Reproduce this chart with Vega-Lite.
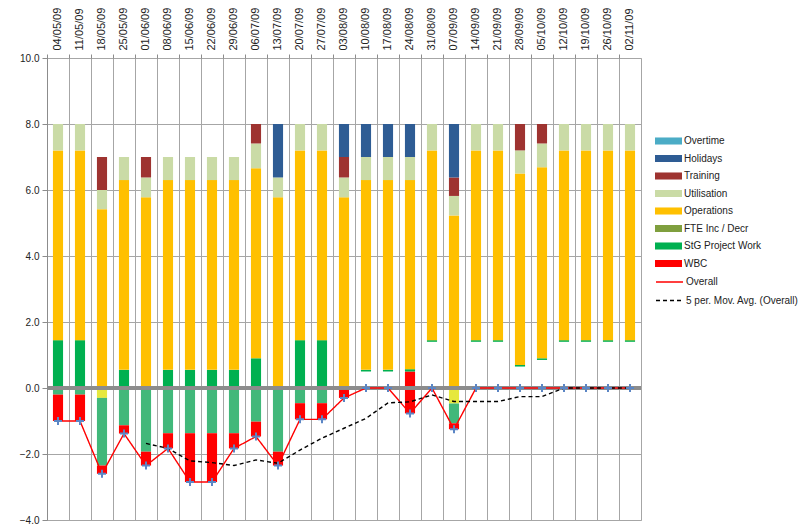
{
  "$schema": "https://vega.github.io/schema/vega-lite/v6.json",
  "width": 594,
  "height": 462,
  "autosize": {"type": "none"},
  "padding": {"left": 47, "top": 58, "right": 170, "bottom": 8},
  "background": "white",
  "config": {
    "font": "Liberation Sans",
    "view": {"stroke": "#a6a6a6", "strokeWidth": 1},
    "axis": {"labelFontSize": 10, "labelColor": "#222222", "gridColor": "#a6a6a6", "gridWidth": 1, "domainColor": "#8c8c8c", "tickColor": "#8c8c8c"},
    "legend": {"labelFontSize": 10, "labelColor": "#222222", "labelFont": "Liberation Sans"}
  },
  "datasets": {
    "bars": [
      {"date": "04/05/09", "series": "StG Project Work", "value": 1.45},
      {"date": "04/05/09", "series": "Operations", "value": 5.75},
      {"date": "04/05/09", "series": "Utilisation", "value": 0.8},
      {"date": "04/05/09", "series": "StG Project Work", "value": -0.2},
      {"date": "04/05/09", "series": "WBC", "value": -0.8},
      {"date": "11/05/09", "series": "StG Project Work", "value": 1.45},
      {"date": "11/05/09", "series": "Operations", "value": 5.75},
      {"date": "11/05/09", "series": "Utilisation", "value": 0.8},
      {"date": "11/05/09", "series": "StG Project Work", "value": -0.2},
      {"date": "11/05/09", "series": "WBC", "value": -0.8},
      {"date": "18/05/09", "series": "Operations", "value": 5.42},
      {"date": "18/05/09", "series": "Utilisation", "value": 0.58},
      {"date": "18/05/09", "series": "Training", "value": 1.0},
      {"date": "18/05/09", "series": "FTE Inc / Decr", "value": -0.3},
      {"date": "18/05/09", "series": "StG Project Work", "value": -2.05},
      {"date": "18/05/09", "series": "WBC", "value": -0.25},
      {"date": "25/05/09", "series": "StG Project Work", "value": 0.55},
      {"date": "25/05/09", "series": "Operations", "value": 5.75},
      {"date": "25/05/09", "series": "Utilisation", "value": 0.7},
      {"date": "25/05/09", "series": "StG Project Work", "value": -1.13},
      {"date": "25/05/09", "series": "WBC", "value": -0.25},
      {"date": "01/06/09", "series": "Operations", "value": 5.78},
      {"date": "01/06/09", "series": "Utilisation", "value": 0.6},
      {"date": "01/06/09", "series": "Training", "value": 0.62},
      {"date": "01/06/09", "series": "StG Project Work", "value": -1.93},
      {"date": "01/06/09", "series": "WBC", "value": -0.42},
      {"date": "08/06/09", "series": "StG Project Work", "value": 0.55},
      {"date": "08/06/09", "series": "Operations", "value": 5.75},
      {"date": "08/06/09", "series": "Utilisation", "value": 0.7},
      {"date": "08/06/09", "series": "StG Project Work", "value": -1.37},
      {"date": "08/06/09", "series": "WBC", "value": -0.46},
      {"date": "15/06/09", "series": "StG Project Work", "value": 0.55},
      {"date": "15/06/09", "series": "Operations", "value": 5.75},
      {"date": "15/06/09", "series": "Utilisation", "value": 0.7},
      {"date": "15/06/09", "series": "StG Project Work", "value": -1.37},
      {"date": "15/06/09", "series": "WBC", "value": -1.48},
      {"date": "22/06/09", "series": "StG Project Work", "value": 0.55},
      {"date": "22/06/09", "series": "Operations", "value": 5.75},
      {"date": "22/06/09", "series": "Utilisation", "value": 0.7},
      {"date": "22/06/09", "series": "StG Project Work", "value": -1.37},
      {"date": "22/06/09", "series": "WBC", "value": -1.48},
      {"date": "29/06/09", "series": "StG Project Work", "value": 0.55},
      {"date": "29/06/09", "series": "Operations", "value": 5.75},
      {"date": "29/06/09", "series": "Utilisation", "value": 0.7},
      {"date": "29/06/09", "series": "StG Project Work", "value": -1.37},
      {"date": "29/06/09", "series": "WBC", "value": -0.46},
      {"date": "06/07/09", "series": "StG Project Work", "value": 0.9},
      {"date": "06/07/09", "series": "Operations", "value": 5.76},
      {"date": "06/07/09", "series": "Utilisation", "value": 0.75},
      {"date": "06/07/09", "series": "Training", "value": 0.59},
      {"date": "06/07/09", "series": "StG Project Work", "value": -1.02},
      {"date": "06/07/09", "series": "WBC", "value": -0.45},
      {"date": "13/07/09", "series": "Operations", "value": 5.78},
      {"date": "13/07/09", "series": "Utilisation", "value": 0.6},
      {"date": "13/07/09", "series": "Holidays", "value": 1.62},
      {"date": "13/07/09", "series": "StG Project Work", "value": -1.93},
      {"date": "13/07/09", "series": "WBC", "value": -0.42},
      {"date": "20/07/09", "series": "StG Project Work", "value": 1.45},
      {"date": "20/07/09", "series": "Operations", "value": 5.75},
      {"date": "20/07/09", "series": "Utilisation", "value": 0.8},
      {"date": "20/07/09", "series": "StG Project Work", "value": -0.46},
      {"date": "20/07/09", "series": "WBC", "value": -0.49},
      {"date": "27/07/09", "series": "StG Project Work", "value": 1.45},
      {"date": "27/07/09", "series": "Operations", "value": 5.75},
      {"date": "27/07/09", "series": "Utilisation", "value": 0.8},
      {"date": "27/07/09", "series": "StG Project Work", "value": -0.46},
      {"date": "27/07/09", "series": "WBC", "value": -0.49},
      {"date": "03/08/09", "series": "Operations", "value": 5.78},
      {"date": "03/08/09", "series": "Utilisation", "value": 0.6},
      {"date": "03/08/09", "series": "Training", "value": 0.62},
      {"date": "03/08/09", "series": "Holidays", "value": 1.0},
      {"date": "03/08/09", "series": "WBC", "value": -0.3},
      {"date": "10/08/09", "series": "gap", "value": 0.5},
      {"date": "10/08/09", "series": "StG Project Work", "value": 0.05},
      {"date": "10/08/09", "series": "Operations", "value": 5.75},
      {"date": "10/08/09", "series": "Utilisation", "value": 0.7},
      {"date": "10/08/09", "series": "Holidays", "value": 1.0},
      {"date": "17/08/09", "series": "gap", "value": 0.5},
      {"date": "17/08/09", "series": "StG Project Work", "value": 0.05},
      {"date": "17/08/09", "series": "Operations", "value": 5.75},
      {"date": "17/08/09", "series": "Utilisation", "value": 0.7},
      {"date": "17/08/09", "series": "Holidays", "value": 1.0},
      {"date": "24/08/09", "series": "WBC", "value": 0.5},
      {"date": "24/08/09", "series": "StG Project Work", "value": 0.07},
      {"date": "24/08/09", "series": "Operations", "value": 5.73},
      {"date": "24/08/09", "series": "Utilisation", "value": 0.7},
      {"date": "24/08/09", "series": "Holidays", "value": 1.0},
      {"date": "24/08/09", "series": "WBC", "value": -0.77},
      {"date": "31/08/09", "series": "gap", "value": 1.4},
      {"date": "31/08/09", "series": "StG Project Work", "value": 0.05},
      {"date": "31/08/09", "series": "Operations", "value": 5.75},
      {"date": "31/08/09", "series": "Utilisation", "value": 0.8},
      {"date": "07/09/09", "series": "Operations", "value": 5.23},
      {"date": "07/09/09", "series": "Utilisation", "value": 0.59},
      {"date": "07/09/09", "series": "Training", "value": 0.56},
      {"date": "07/09/09", "series": "Holidays", "value": 1.62},
      {"date": "07/09/09", "series": "FTE Inc / Decr", "value": -0.47},
      {"date": "07/09/09", "series": "StG Project Work", "value": -0.6},
      {"date": "07/09/09", "series": "WBC", "value": -0.18},
      {"date": "14/09/09", "series": "gap", "value": 1.4},
      {"date": "14/09/09", "series": "StG Project Work", "value": 0.05},
      {"date": "14/09/09", "series": "Operations", "value": 5.75},
      {"date": "14/09/09", "series": "Utilisation", "value": 0.8},
      {"date": "21/09/09", "series": "gap", "value": 1.4},
      {"date": "21/09/09", "series": "StG Project Work", "value": 0.05},
      {"date": "21/09/09", "series": "Operations", "value": 5.75},
      {"date": "21/09/09", "series": "Utilisation", "value": 0.8},
      {"date": "28/09/09", "series": "gap", "value": 0.65},
      {"date": "28/09/09", "series": "StG Project Work", "value": 0.05},
      {"date": "28/09/09", "series": "Operations", "value": 5.8},
      {"date": "28/09/09", "series": "Utilisation", "value": 0.7},
      {"date": "28/09/09", "series": "Training", "value": 0.8},
      {"date": "05/10/09", "series": "gap", "value": 0.85},
      {"date": "05/10/09", "series": "StG Project Work", "value": 0.05},
      {"date": "05/10/09", "series": "Operations", "value": 5.79},
      {"date": "05/10/09", "series": "Utilisation", "value": 0.72},
      {"date": "05/10/09", "series": "Training", "value": 0.59},
      {"date": "12/10/09", "series": "gap", "value": 1.4},
      {"date": "12/10/09", "series": "StG Project Work", "value": 0.05},
      {"date": "12/10/09", "series": "Operations", "value": 5.75},
      {"date": "12/10/09", "series": "Utilisation", "value": 0.8},
      {"date": "19/10/09", "series": "gap", "value": 1.4},
      {"date": "19/10/09", "series": "StG Project Work", "value": 0.05},
      {"date": "19/10/09", "series": "Operations", "value": 5.75},
      {"date": "19/10/09", "series": "Utilisation", "value": 0.8},
      {"date": "26/10/09", "series": "gap", "value": 1.4},
      {"date": "26/10/09", "series": "StG Project Work", "value": 0.05},
      {"date": "26/10/09", "series": "Operations", "value": 5.75},
      {"date": "26/10/09", "series": "Utilisation", "value": 0.8},
      {"date": "02/11/09", "series": "gap", "value": 1.4},
      {"date": "02/11/09", "series": "StG Project Work", "value": 0.05},
      {"date": "02/11/09", "series": "Operations", "value": 5.75},
      {"date": "02/11/09", "series": "Utilisation", "value": 0.8}
    ],
    "lines": [
      {"date": "04/05/09", "line": "Overall", "value": -1.0},
      {"date": "11/05/09", "line": "Overall", "value": -1.0},
      {"date": "18/05/09", "line": "Overall", "value": -2.6},
      {"date": "25/05/09", "line": "Overall", "value": -1.38},
      {"date": "01/06/09", "line": "Overall", "value": -2.35},
      {"date": "08/06/09", "line": "Overall", "value": -1.83},
      {"date": "15/06/09", "line": "Overall", "value": -2.85},
      {"date": "22/06/09", "line": "Overall", "value": -2.85},
      {"date": "29/06/09", "line": "Overall", "value": -1.83},
      {"date": "06/07/09", "line": "Overall", "value": -1.47},
      {"date": "13/07/09", "line": "Overall", "value": -2.35},
      {"date": "20/07/09", "line": "Overall", "value": -0.95},
      {"date": "27/07/09", "line": "Overall", "value": -0.95},
      {"date": "03/08/09", "line": "Overall", "value": -0.3},
      {"date": "10/08/09", "line": "Overall", "value": 0},
      {"date": "17/08/09", "line": "Overall", "value": 0},
      {"date": "24/08/09", "line": "Overall", "value": -0.77},
      {"date": "31/08/09", "line": "Overall", "value": 0},
      {"date": "07/09/09", "line": "Overall", "value": -1.25},
      {"date": "14/09/09", "line": "Overall", "value": 0},
      {"date": "21/09/09", "line": "Overall", "value": 0},
      {"date": "28/09/09", "line": "Overall", "value": 0},
      {"date": "05/10/09", "line": "Overall", "value": 0},
      {"date": "12/10/09", "line": "Overall", "value": 0},
      {"date": "19/10/09", "line": "Overall", "value": 0},
      {"date": "26/10/09", "line": "Overall", "value": 0},
      {"date": "02/11/09", "line": "Overall", "value": 0},
      {"date": "01/06/09", "line": "5 per. Mov. Avg. (Overall)", "value": -1.68},
      {"date": "08/06/09", "line": "5 per. Mov. Avg. (Overall)", "value": -1.83},
      {"date": "15/06/09", "line": "5 per. Mov. Avg. (Overall)", "value": -2.21},
      {"date": "22/06/09", "line": "5 per. Mov. Avg. (Overall)", "value": -2.26},
      {"date": "29/06/09", "line": "5 per. Mov. Avg. (Overall)", "value": -2.35},
      {"date": "06/07/09", "line": "5 per. Mov. Avg. (Overall)", "value": -2.18},
      {"date": "13/07/09", "line": "5 per. Mov. Avg. (Overall)", "value": -2.28},
      {"date": "20/07/09", "line": "5 per. Mov. Avg. (Overall)", "value": -1.88},
      {"date": "27/07/09", "line": "5 per. Mov. Avg. (Overall)", "value": -1.52},
      {"date": "03/08/09", "line": "5 per. Mov. Avg. (Overall)", "value": -1.22},
      {"date": "10/08/09", "line": "5 per. Mov. Avg. (Overall)", "value": -0.92},
      {"date": "17/08/09", "line": "5 per. Mov. Avg. (Overall)", "value": -0.45},
      {"date": "24/08/09", "line": "5 per. Mov. Avg. (Overall)", "value": -0.42},
      {"date": "31/08/09", "line": "5 per. Mov. Avg. (Overall)", "value": -0.21},
      {"date": "07/09/09", "line": "5 per. Mov. Avg. (Overall)", "value": -0.41},
      {"date": "14/09/09", "line": "5 per. Mov. Avg. (Overall)", "value": -0.41},
      {"date": "21/09/09", "line": "5 per. Mov. Avg. (Overall)", "value": -0.41},
      {"date": "28/09/09", "line": "5 per. Mov. Avg. (Overall)", "value": -0.26},
      {"date": "05/10/09", "line": "5 per. Mov. Avg. (Overall)", "value": -0.26},
      {"date": "12/10/09", "line": "5 per. Mov. Avg. (Overall)", "value": 0},
      {"date": "19/10/09", "line": "5 per. Mov. Avg. (Overall)", "value": 0},
      {"date": "26/10/09", "line": "5 per. Mov. Avg. (Overall)", "value": 0},
      {"date": "02/11/09", "line": "5 per. Mov. Avg. (Overall)", "value": 0}
    ]
  },
  "layer": [
    {
      "data": {"name": "bars"},
      "transform": [
        {"calculate": "indexof(['WBC','StG Project Work','FTE Inc / Decr','Operations','Utilisation','Training','Holidays','Overtime'], datum.series)", "as": "idx"},
        {"calculate": "datum.value < 0 ? 10 - datum.idx : datum.idx", "as": "ord"}
      ],
      "mark": {"type": "bar", "width": {"band": 0.46}},
      "encoding": {
        "x": {
          "field": "date", "type": "nominal", "title": null,
          "scale": {"domain": ["04/05/09","11/05/09","18/05/09","25/05/09","01/06/09","08/06/09","15/06/09","22/06/09","29/06/09","06/07/09","13/07/09","20/07/09","27/07/09","03/08/09","10/08/09","17/08/09","24/08/09","31/08/09","07/09/09","14/09/09","21/09/09","28/09/09","05/10/09","12/10/09","19/10/09","26/10/09","02/11/09"], "paddingInner": 0, "paddingOuter": 0},
          "axis": {"orient": "top", "labelAngle": 270, "ticks": false, "domain": false, "grid": false, "labelPadding": 8, "labelFontSize": 11}
        },
        "y": {
          "field": "value", "type": "quantitative", "stack": "zero", "title": null,
          "scale": {"domain": [-4, 10], "nice": false, "zero": false},
          "axis": {"values": [-4, -2, 0, 2, 4, 6, 8, 10], "format": ".1f", "grid": true, "domain": true, "ticks": true, "tickSize": 5, "labelPadding": 3}
        },
        "order": {"field": "ord", "type": "quantitative"},
        "color": {
          "field": "series", "type": "nominal",
          "condition": [
            {"test": "datum.series === 'gap'", "value": "transparent"},
            {"test": "datum.value < 0 && datum.series === 'StG Project Work'", "value": "#41b87a"},
            {"test": "datum.value < 0 && datum.series === 'FTE Inc / Decr'", "value": "#e6e83e"}
          ],
          "scale": {
            "domain": ["Overtime", "Holidays", "Training", "Utilisation", "Operations", "FTE Inc / Decr", "StG Project Work", "WBC"],
            "range": ["#4bacc6", "#2e5c94", "#9e3330", "#cadba6", "#ffc000", "#7f9f3e", "#00b050", "#ff0000"]
          },
          "legend": {
            "orient": "none", "legendX": 614, "legendY": 75.5, "title": null,
            "symbolType": "M-1.8,-0.47H1.8V0.47H-1.8Z", "symbolSize": 225,
            "labelOffset": 8, "rowPadding": 4.5, "symbolStrokeWidth": 0
          }
        }
      }
    },
    {
      "data": {"name": "lines"},
      "mark": {"type": "rule", "color": "#8c8c8c", "strokeWidth": 2.5},
      "encoding": {"y": {"datum": 0, "type": "quantitative", "title": null}}
    },
    {
      "data": {"name": "lines"},
      "mark": {"type": "line", "strokeWidth": 1.4},
      "encoding": {
        "x": {
          "field": "date", "type": "nominal", "title": null,
          "axis": {"orient": "top", "bandPosition": 0, "grid": true, "labels": false, "ticks": true, "tickSize": 4, "domain": false}
        },
        "y": {"field": "value", "type": "quantitative", "title": null},
        "stroke": {
          "field": "line", "type": "nominal",
          "scale": {"domain": ["Overall", "5 per. Mov. Avg. (Overall)"], "range": ["#ff0000", "#000000"]},
          "legend": {"orient": "none", "legendX": 614, "legendY": 215.5, "title": null, "symbolType": "M-1.8,0H1.8", "symbolSize": 225, "labelOffset": 8, "rowPadding": 4.5, "symbolStrokeWidth": 1.5}
        },
        "strokeDash": {
          "field": "line", "type": "nominal",
          "scale": {"domain": ["Overall", "5 per. Mov. Avg. (Overall)"], "range": [[1, 0], [4, 3]]},
          "legend": {"orient": "none", "legendX": 614, "legendY": 215.5, "title": null, "symbolType": "M-1.8,0H1.8", "symbolSize": 225, "labelOffset": 8, "rowPadding": 4.5, "symbolStrokeWidth": 1.5}
        }
      }
    },
    {
      "data": {"name": "lines"},
      "transform": [{"filter": "datum.line === 'Overall'"}],
      "mark": {"type": "point", "shape": "M-1,0H1M0,-1V1", "filled": false, "stroke": "#5b86c5", "strokeWidth": 2, "size": 64, "opacity": 1},
      "encoding": {
        "x": {"field": "date", "type": "nominal", "axis": null},
        "y": {"field": "value", "type": "quantitative", "title": null}
      }
    }
  ],
  "resolve": {"axis": {"x": "independent"}}
}
